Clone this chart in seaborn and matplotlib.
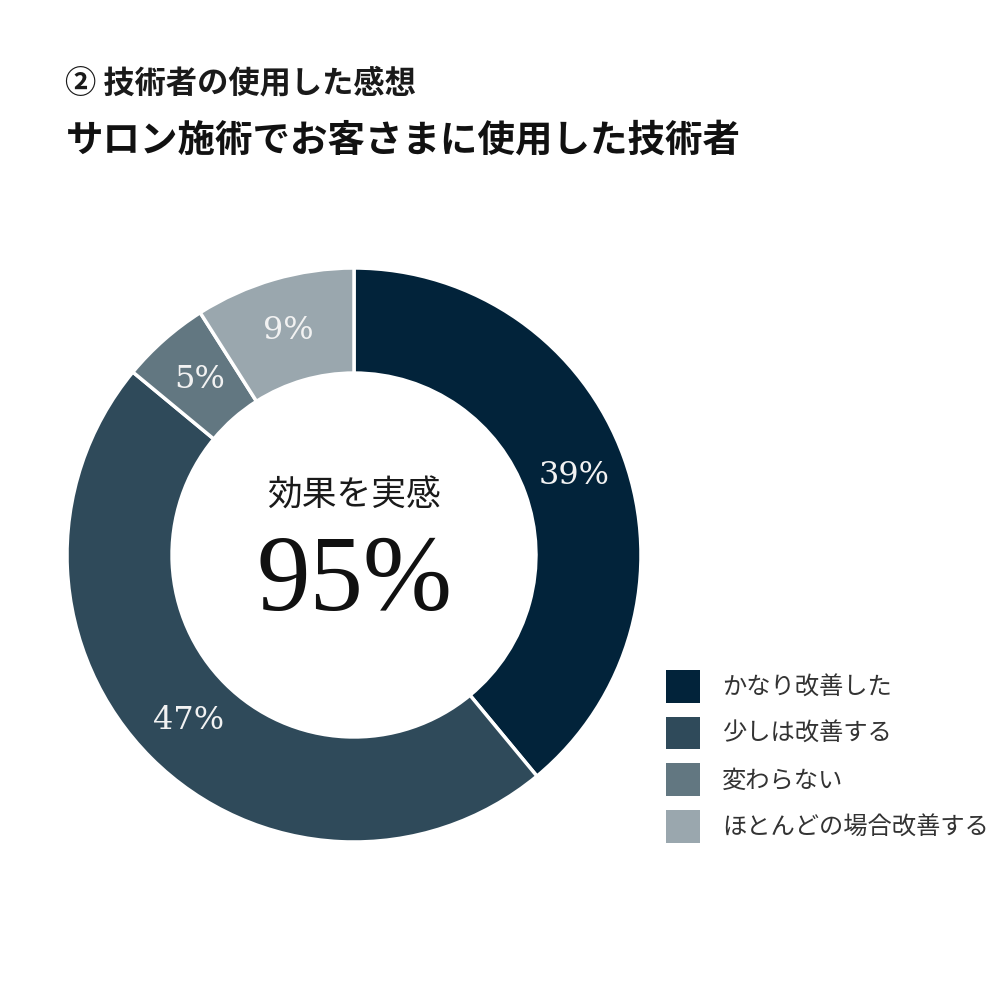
import matplotlib
matplotlib.use("Agg")
import matplotlib.pyplot as plt
import seaborn as sns
import numpy as np

categories = ["かなり改善した", "少しは改善する", "変わらない", "ほとんどの場合改善する"]
values = [39, 47, 5, 9]
pct_labels = ["39%", "47%", "5%", "9%"]
colors = ["#02233a", "#2f4a5a", "#627781", "#9aa7ae"]
subtitle = "② 技術者の使用した感想"
title = "サロン施術でお客さまに使用した技術者"
center_label = "効果を実感"
center_value = "95%"

sns.set_theme(style="white")
plt.rcParams['font.family'] = ['Noto Sans CJK JP', 'DejaVu Sans']

fig = plt.figure(figsize=(10, 10), dpi=100)
fig.patch.set_facecolor("white")

ax = fig.add_axes([0.067, 0.158, 0.574, 0.574])
palette = sns.color_palette(colors)
wedges, _ = ax.pie(values, colors=palette, startangle=90, counterclock=False,
                   radius=1.0,
                   wedgeprops=dict(width=0.366, edgecolor="white", linewidth=2.5))
ax.set_aspect("equal")
ax.set_xlim(-1, 1)
ax.set_ylim(-1, 1)
ax.axis("off")

r_lab = 0.815
start = 90.0
for v, lab in zip(values, pct_labels):
    mid = start - v * 360 / 100 / 2
    ax.text(r_lab * np.cos(np.radians(mid)), r_lab * np.sin(np.radians(mid)), lab,
            ha="center", va="center", color="#f2f2f2", fontsize=23,
            family=["DejaVu Serif"])
    start -= v * 360 / 100

ax.text(0, 0.205, center_label, ha="center", va="center", fontsize=25, color="#1a1a1a")
ax.text(0, -0.10, center_value, ha="center", va="center", fontsize=77, color="#111111",
        family=["Liberation Serif"])

fig.text(0.065, 0.917, subtitle, ha="left", va="center", fontsize=22.5,
         color="#1a1a1a", fontweight="bold")
fig.text(0.066, 0.860, title, ha="left", va="center", fontsize=27,
         color="#111111", fontweight="bold")

leg = fig.legend(wedges, categories, loc="upper left", bbox_to_anchor=(0.666, 0.330),
                 frameon=False, fontsize=17.5, handlelength=1.4, handleheight=1.7,
                 labelspacing=0.57, handletextpad=0.9, borderpad=0, borderaxespad=0)
for t in leg.get_texts():
    t.set_color("#333333")
for h in leg.legend_handles:
    h.set_edgecolor("none")

fig.savefig("out.png", dpi=100, facecolor="white")
